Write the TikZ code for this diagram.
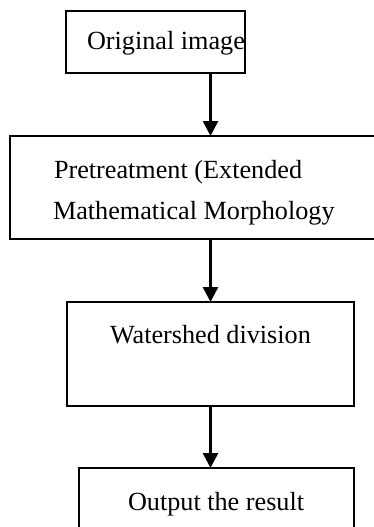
\documentclass[tikz,border=0pt]{standalone}
\usepackage{fontspec}
\setmainfont{Liberation Serif}
\usetikzlibrary{arrows.meta}
\begin{document}
\begin{tikzpicture}[x=1pt,y=-1pt,
  box/.style={draw=black,line width=2.2pt,rectangle,inner sep=0pt,outer sep=0pt},
  lbl/.style={inner sep=0pt,outer sep=0pt,anchor=base west,font=\fontsize{26.2}{41}\selectfont},
  flow/.style={line width=2.6pt,-{Triangle[width=15pt,length=15pt]}}]
\useasboundingbox (0,0) rectangle (374,527);
\node[box,minimum width=179pt,minimum height=62pt] (b1) at (155.5,42) {};
\node[box,minimum width=370pt,minimum height=103pt] (b2) at (195,187.5) {};
\node[box,minimum width=287pt,minimum height=104pt] (b3) at (210.5,354) {};
\node[box,minimum width=275pt,minimum height=72pt] (b4) at (216.5,504) {};
\node[lbl] (t1) at (87,50) {Original image};
\node[lbl] (t2a) at (54,178) {Pretreatment (Extended};
\node[lbl] (t2b) at (53,219) {Mathematical Morphology};
\node[lbl] (t3) at (110,343) {Watershed division};
\node[lbl] (t4) at (128,510) {Output the result};
\coordinate (ax) at (210.5,0);
\draw[flow] (b1.south -| ax) -- (b2.north -| ax);
\draw[flow] (b2.south -| ax) -- (b3.north -| ax);
\draw[flow] (b3.south -| ax) -- (b4.north -| ax);
\end{tikzpicture}
\end{document}
